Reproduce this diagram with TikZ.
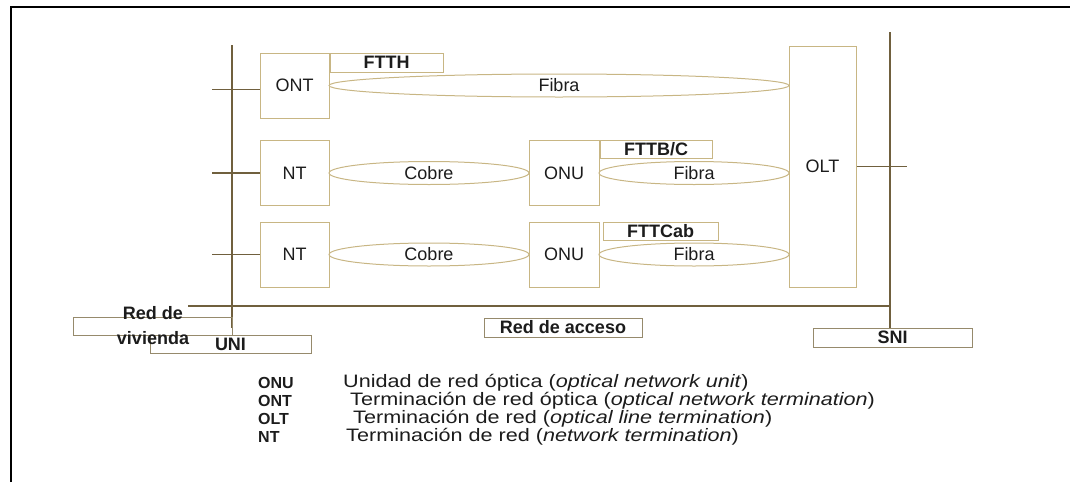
\documentclass[tikz,border=0pt]{standalone}
\usepackage{fontspec}
\setmainfont{Liberation Sans}
\usetikzlibrary{shapes.geometric,positioning,calc}
\definecolor{boxline}{RGB}{200,182,132}
\definecolor{tagline}{RGB}{150,138,108}
\definecolor{barline}{RGB}{112,96,62}
\definecolor{inktext}{RGB}{28,28,28}
\begin{document}
\begin{tikzpicture}[x=1pt,y=-1pt]
\tikzstyle{every node}+=[inner sep=0pt, text=inktext, font=\fontsize{18}{20}\selectfont]
\tikzstyle{unitbox}=[draw=boxline, line width=1pt, rectangle, minimum width=69pt, minimum height=65pt]
\tikzstyle{tagbox}=[draw=boxline, line width=1pt, rectangle, minimum height=19pt, font=\fontsize{18}{20}\selectfont\bfseries]
\tikzstyle{lens}=[draw=boxline, line width=1pt, ellipse, minimum height=23pt]
\tikzstyle{bar}=[draw=barline, line width=1.3pt]
\tikzstyle{abbr}=[anchor=west, font=\fontsize{16}{18}\selectfont\bfseries]
\tikzstyle{desc}=[anchor=west, xscale=1.2, font=\fontsize{18}{18}\selectfont]

\useasboundingbox (0,0) rectangle (1070,482);
\draw [black, line width=2pt] (11,482) -- (11,7) -- (1070,7);

\node[unitbox] (ont) at (294.5,85.5) {ONT};
\node[unitbox] (nt1) at (294.5,173) {NT};
\node[unitbox] (nt2) at (294.5,254.5) {NT};
\node[unitbox, minimum width=70pt] (onu1) at (564,173) {ONU};
\node[unitbox, minimum width=70pt] (onu2) at (564,254.5) {ONU};
\node[unitbox, minimum width=67pt, minimum height=241pt] (olt) at (822.5,166.5) {OLT};

\node[tagbox, minimum width=113pt, anchor=north west] (ftth) at (ont.north east) {FTTH};
\node[tagbox, minimum width=112pt, minimum height=18pt, anchor=north west] (fttbc) at (onu1.north east) {FTTB/C};
\node[tagbox, minimum width=115pt, minimum height=18pt, anchor=north west] (fttcab) at ($(onu2.north east)+(3,0)$) {FTTCab};

\node[lens, minimum width=460pt] (fibra1) at ($(ont.east)!0.5!(ont.east -| olt.west)$) {Fibra};
\node[lens, minimum width=200pt] (cobre1) at ($(nt1.east)!0.5!(onu1.west)$) {Cobre};
\node[lens, minimum width=190pt] (fibra2) at ($(onu1.east)!0.5!(onu1.east -| olt.west)$) {Fibra};
\node[lens, minimum width=200pt] (cobre2) at ($(nt2.east)!0.5!(onu2.west)$) {Cobre};
\node[lens, minimum width=190pt] (fibra3) at ($(onu2.east)!0.5!(onu2.east -| olt.west)$) {Fibra};

\coordinate (lbarT) at (232,45);
\coordinate (lbarB) at (232,328);
\coordinate (stubL) at (212,0);
\coordinate (rbarT) at (890,32);
\coordinate (stubR) at (907,0);
\coordinate (accL) at (188,306);

\draw[bar] (lbarT) -- (lbarB);
\draw[bar] ($(ont.west)+(0,4)$) -- ($(ont.west -| stubL)+(0,4)$);
\draw[bar] (nt1.west) -- (nt1.west -| stubL);
\draw[bar] (nt2.west) -- (nt2.west -| stubL);

\node[tagbox, draw=tagline, minimum width=159pt] (sni) at (892.5,337.5) {SNI};
\node[tagbox, draw=tagline, minimum width=158pt] (acceso) at (563,327.5) {Red de acceso};
\node[tagbox, draw=tagline, minimum width=161pt, minimum height=18pt] (uni) at (230.5,344) {UNI};
\node[tagbox, draw=tagline, minimum width=159pt, minimum height=18pt] (vivbox) at (152.5,326) {};
\node[font=\fontsize{18}{18}\selectfont\bfseries, align=center] (vivienda) at (153,325.5) {Red de\\[7pt]vivienda};

\draw[bar] (rbarT) -- (rbarT |- sni.north);
\draw[bar] (olt.east) -- (olt.east -| stubR);
\draw[bar] (accL) -- (accL -| rbarT);

\node[abbr] (kONU) at (258,383) {ONU};
\node[desc] (dONU) at (343,383) {Unidad de red óptica (\textit{optical network unit})};
\node[abbr] (kONT) at (258,401) {ONT};
\node[desc] (dONT) at (350,401) {Terminación de red óptica (\textit{optical network termination})};
\node[abbr] (kOLT) at (258,419) {OLT};
\node[desc] (dOLT) at (353,419) {Terminación de red (\textit{optical line termination})};
\node[abbr] (kNT) at (258,437) {NT};
\node[desc] (dNT) at (346,437) {Terminación de red (\textit{network termination})};
\end{tikzpicture}
\end{document}
